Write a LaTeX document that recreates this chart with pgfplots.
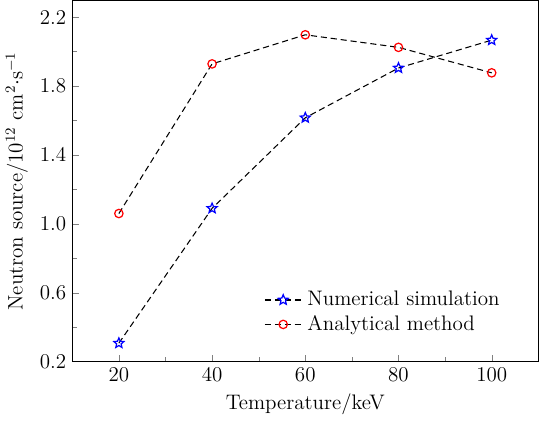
\documentclass[border=0pt]{standalone}
\usepackage{pgfplots}
\pgfplotsset{compat=1.18}
\pgfdeclareplotmark{ostar}{%
  \pgfpathmoveto{\pgfpointpolar{90}{\pgfplotmarksize}}%
  \pgfpathlineto{\pgfpointpolar{126}{0.45\pgfplotmarksize}}%
  \pgfpathlineto{\pgfpointpolar{162}{\pgfplotmarksize}}%
  \pgfpathlineto{\pgfpointpolar{198}{0.45\pgfplotmarksize}}%
  \pgfpathlineto{\pgfpointpolar{234}{\pgfplotmarksize}}%
  \pgfpathlineto{\pgfpointpolar{270}{0.45\pgfplotmarksize}}%
  \pgfpathlineto{\pgfpointpolar{306}{\pgfplotmarksize}}%
  \pgfpathlineto{\pgfpointpolar{342}{0.45\pgfplotmarksize}}%
  \pgfpathlineto{\pgfpointpolar{18}{\pgfplotmarksize}}%
  \pgfpathlineto{\pgfpointpolar{54}{0.45\pgfplotmarksize}}%
  \pgfpathclose
  \pgfusepathqstroke
}
\begin{document}
\begin{tikzpicture}
\begin{axis}[
  scale only axis,
  width=266pt,
  height=206pt,
  xmin=10, xmax=110,
  ymin=0.2, ymax=2.296,
  xtick={20,40,60,80,100},
  ytick={0.2,0.6,1.0,1.4,1.8,2.2},
  minor x tick num=1,
  minor y tick num=1,
  tick align=inside,
  xtick pos=bottom,
  ytick pos=left,
  axis line style={line width=0.8pt},
  major tick length=4pt,
  minor tick length=2.5pt,
  tick label style={font=\large},
  label style={font=\large},
  y tick label style={/pgf/number format/.cd,fixed,fixed zerofill,precision=1},
  xlabel={Temperature/keV},
  ylabel={Neutron source/$10^{12}$ cm$^2{\cdot}$s$^{-1}$},
  legend style={draw=none, fill=none, at={(0.40,0.215)}, anchor=north west,
    row sep=0pt, font=\large},
  legend cell align=left,
  legend image code/.code={%
    \path (0pt,0pt) -- (22pt,0pt);
    \draw[black, line width=0.5pt, solid] (0pt,0pt) -- (3pt,0pt);
    \draw[black, line width=0.5pt, solid] (17pt,0pt) -- (20pt,0pt);
    \draw plot[only marks] coordinates {(10.5pt,0pt)};
  },
  every axis plot/.append style={black, line width=0.6pt, dash pattern=on 3.5pt off 2.2pt},
]
\addplot[mark=ostar, mark size=3pt, mark options={blue, solid, line width=0.7pt}] coordinates {
  (20,0.307) (40,1.09) (60,1.616) (80,1.905) (100,2.067)
};
\addplot[mark=o, mark size=2.4pt, mark options={red, solid, line width=0.7pt}] coordinates {
  (20,1.06) (40,1.929) (60,2.098) (80,2.025) (100,1.877)
};
\legend{Numerical simulation, Analytical method}
\end{axis}
\end{tikzpicture}
\end{document}
